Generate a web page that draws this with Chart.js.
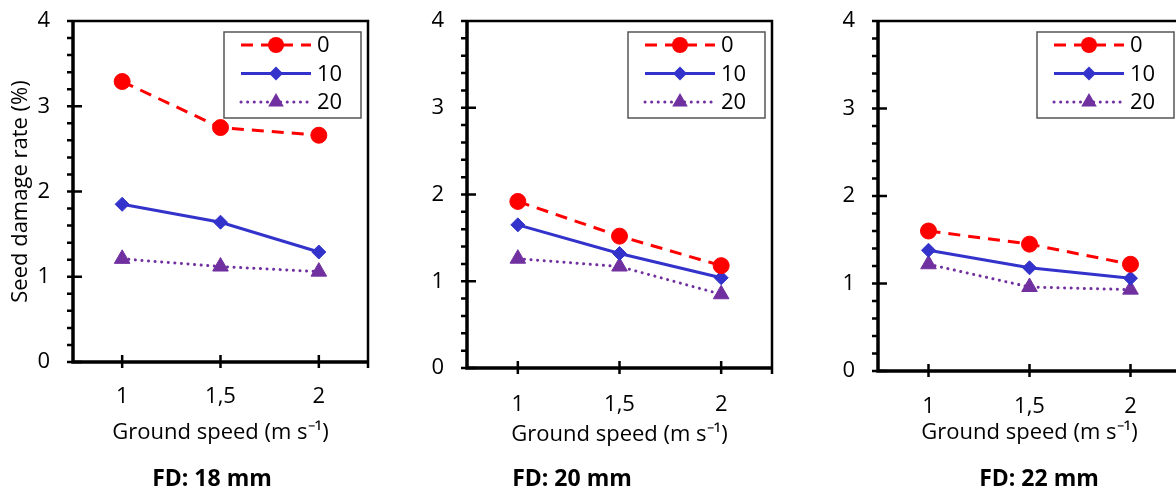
<!DOCTYPE html>
<html>
<head>
<meta charset="utf-8">
<script src="https://cdn.jsdelivr.net/npm/chart.js@4.4.0/dist/chart.umd.min.js"></script>
<style>
  html, body { margin: 0; padding: 0; background: #fff; overflow: hidden; width: 1176px; height: 490px; }
  body { position: relative; font-family: "Open Sans", sans-serif; }
  .panel { position: absolute; top: 0; height: 490px; }
  .fd { position: absolute; top: 462px; font-size: 23px; line-height: 30px; font-weight: bold; color: #000; transform: translateX(-50%); white-space: nowrap; }
</style>
</head>
<body>
<div class="panel" style="left:0"><canvas id="c0" width="380" height="490"></canvas></div>
<div class="panel" style="left:400px"><canvas id="c1" width="380" height="490"></canvas></div>
<div class="panel" style="left:800px"><canvas id="c2" width="390" height="490"></canvas></div>
<div class="fd" id="fd0" style="left:212px"></div>
<div class="fd" id="fd1" style="left:572px"></div>
<div class="fd" id="fd2" style="left:1039px"></div>
<script>
// x categories (ground speed, m/s)
const groundSpeed = ['1', '1,5', '2'];
// legend names (series)
const seriesNames = ['0', '10', '20'];
const panelTitles = ['FD: 18 mm', 'FD: 20 mm', 'FD: 22 mm'];

// seed damage rate (%)
const fd18_0 = [3.29, 2.75, 2.66];
const fd18_10 = [1.85, 1.64, 1.29];
const fd18_20 = [1.21, 1.12, 1.06];

const fd20_0 = [1.92, 1.52, 1.18];
const fd20_10 = [1.65, 1.32, 1.04];
const fd20_20 = [1.26, 1.17, 0.85];

const fd22_0 = [1.60, 1.45, 1.22];
const fd22_10 = [1.38, 1.18, 1.06];
const fd22_20 = [1.22, 0.96, 0.93];

const yMin = 0, yMax = 4;

Chart.defaults.font.family = '"Open Sans", sans-serif';
Chart.defaults.font.size = 22;
Chart.defaults.color = '#000';

// frame, axes and tick marks (ticks cross the axis like in Excel)
const framePlugin = {
  id: 'frame',
  beforeDatasetsDraw(chart) {
    const { ctx, chartArea: a, scales: { x, y } } = chart;
    ctx.save();
    ctx.strokeStyle = '#000';
    ctx.lineWidth = 2.5;
    ctx.beginPath();
    ctx.moveTo(a.left, a.top);
    ctx.lineTo(a.right, a.top);
    ctx.lineTo(a.right, a.bottom + 6);
    for (let k = 0; k <= (y.max - y.min) * 5; k++) {
      const py = y.getPixelForValue(y.min + k * 0.2);
      ctx.moveTo(a.left - 6, py);
      ctx.lineTo(a.left, py);
    }
    y.ticks.forEach((t, i) => {
      const py = y.getPixelForTick(i);
      ctx.moveTo(a.left - 6, py);
      ctx.lineTo(a.left + 9, py);
    });
    x.ticks.forEach((t, i) => {
      const px = x.getPixelForTick(i);
      ctx.moveTo(px, a.bottom - 7);
      ctx.lineTo(px, a.bottom + 6);
    });
    ctx.stroke();
    ctx.lineWidth = 3.5;
    ctx.beginPath();
    ctx.moveTo(a.left, a.top);
    ctx.lineTo(a.left, a.bottom);
    ctx.lineTo(a.right, a.bottom);
    ctx.stroke();
    ctx.restore();
  }
};

function drawMarker(ctx, style, r, x, y) {
  ctx.beginPath();
  if (style === 'circle') {
    ctx.arc(x, y, r, 0, Math.PI * 2);
  } else if (style === 'rectRot') {
    ctx.moveTo(x - r, y); ctx.lineTo(x, y - r); ctx.lineTo(x + r, y); ctx.lineTo(x, y + r);
  } else {
    ctx.moveTo(x, y - r);
    ctx.lineTo(x + r * 0.866, y + r * 0.5);
    ctx.lineTo(x - r * 0.866, y + r * 0.5);
  }
  ctx.closePath();
  ctx.fill();
}

// boxed legend in the upper right corner with line + marker samples
const legendPlugin = {
  id: 'boxLegend',
  afterDatasetsDraw(chart) {
    const { ctx, chartArea: a } = chart;
    const w = 137, h = 86;
    const bx = a.right - 7 - w, by = a.top + 11;
    ctx.save();
    ctx.fillStyle = '#fff';
    ctx.fillRect(bx, by, w, h);
    ctx.strokeStyle = '#555';
    ctx.lineWidth = 1.5;
    ctx.strokeRect(bx, by, w, h);
    chart.data.datasets.forEach((ds, i) => {
      const ry = by + 13 + i * 28.5;
      ctx.strokeStyle = ds.borderColor;
      ctx.lineWidth = ds.borderWidth;
      ctx.lineCap = ds.borderCapStyle || 'butt';
      ctx.setLineDash(ds.borderDash || []);
      ctx.beginPath();
      ctx.moveTo(bx + 17, ry);
      ctx.lineTo(bx + 87, ry);
      ctx.stroke();
      ctx.setLineDash([]);
      ctx.fillStyle = ds.pointBackgroundColor;
      drawMarker(ctx, ds.pointStyle, ds.pointRadius, bx + 52, ry);
      ctx.fillStyle = '#000';
      ctx.font = '22px "Open Sans", sans-serif';
      ctx.textBaseline = 'middle';
      ctx.textAlign = 'left';
      ctx.fillText(ds.label, bx + 93, ry + 1);
    });
    ctx.restore();
  }
};

function makeDatasets(v0, v10, v20) {
  return [
    { label: seriesNames[0], data: v0, borderColor: '#FF0000', pointBackgroundColor: '#FF0000', pointBorderColor: '#FF0000',
      borderWidth: 3, borderDash: [12, 8], pointStyle: 'circle', pointRadius: 8, pointBorderWidth: 1 },
    { label: seriesNames[1], data: v10, borderColor: '#3333CC', pointBackgroundColor: '#3333CC', pointBorderColor: '#3333CC',
      borderWidth: 3, pointStyle: 'rectRot', pointRadius: 7, pointBorderWidth: 1 },
    { label: seriesNames[2], data: v20, borderColor: '#7030A0', pointBackgroundColor: '#7030A0', pointBorderColor: '#7030A0',
      borderWidth: 3, borderDash: [0.1, 6.5], borderCapStyle: 'round', pointStyle: 'triangle', pointRadius: 9, pointBorderWidth: 1 }
  ];
}

// per panel layout: y axis width, right/bottom padding, x axis height, tick and title spacing
const panels = [
  { id: 'c0', data: [fd18_0, fd18_10, fd18_20], yW: 73, padT: 21, padR: 12, padB: 44, xH: 84, tickPad: 22, yTitle: true },
  { id: 'c1', data: [fd20_0, fd20_10, fd20_20], yW: 67, padT: 21, padR: 8, padB: 42, xH: 80, tickPad: 24, yTitle: false },
  { id: 'c2', data: [fd22_0, fd22_10, fd22_20], yW: 78, padT: 21, padR: 9, padB: 44, xH: 75, tickPad: 23, yTitle: false }
];

panels.forEach((p, idx) => {
  document.getElementById('fd' + idx).textContent = panelTitles[idx];
  new Chart(document.getElementById(p.id), {
    type: 'line',
    data: { labels: groundSpeed, datasets: makeDatasets(p.data[0], p.data[1], p.data[2]) },
    options: {
      responsive: false,
      animation: false,
      layout: { autoPadding: false, padding: { top: p.padT, left: 0, right: p.padR, bottom: p.padB } },
      plugins: { legend: { display: false }, tooltip: { enabled: false } },
      scales: {
        x: {
          type: 'category',
          offset: true,
          grid: { display: false, drawTicks: false },
          border: { display: false },
          ticks: { padding: p.tickPad, maxRotation: 0 },
          title: { display: true, text: 'Ground speed (m s\u207B\u00B9)', padding: { top: 0, bottom: 0 } },
          afterFit(s) { s.height = p.xH; }
        },
        y: {
          min: yMin, max: yMax,
          grid: { display: false, drawTicks: true, tickLength: 23 },
          border: { display: false },
          ticks: { stepSize: 1, padding: 0 },
          title: { display: p.yTitle, text: 'Seed damage rate (%)', padding: { top: 8, bottom: 0 } },
          afterFit(s) { s.width = p.yW; }
        }
      }
    },
    plugins: [framePlugin, legendPlugin]
  });
});
</script>
</body>
</html>
